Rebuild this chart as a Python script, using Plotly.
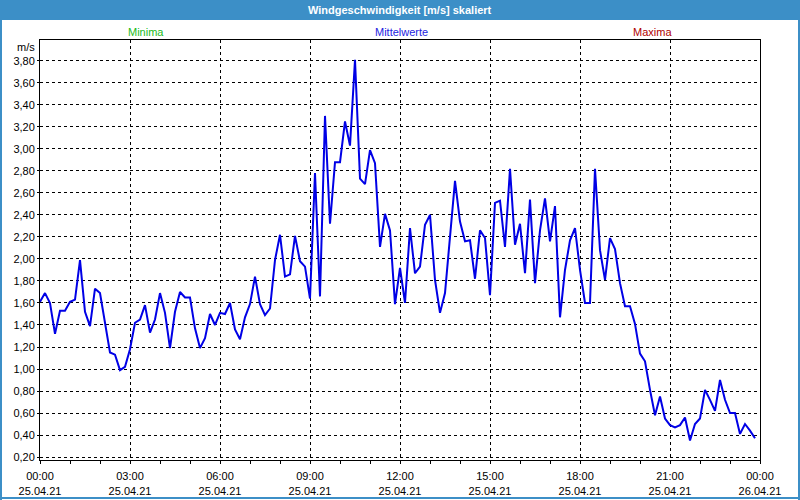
import pandas as pd
import plotly.graph_objects as go

# ---- data ----
start_time = "2021-04-25 00:00"
wind_mean = [
    1.61, 1.69, 1.60, 1.32, 1.53, 1.53, 1.61, 1.63, 1.99, 1.52, 1.39, 1.73,
    1.69, 1.40, 1.15, 1.13, 0.99, 1.02, 1.18, 1.42, 1.45, 1.58, 1.33, 1.45,
    1.69, 1.51, 1.19, 1.52, 1.70, 1.65, 1.65, 1.37, 1.19, 1.28, 1.50, 1.40,
    1.51, 1.50, 1.60, 1.36, 1.27, 1.47, 1.59, 1.84, 1.59, 1.49, 1.55, 1.99,
    2.22, 1.84, 1.86, 2.21, 1.98, 1.93, 1.64, 2.78, 1.66, 3.30, 2.32, 2.88,
    2.88, 3.25, 3.03, 3.81, 2.73, 2.68, 2.99, 2.87, 2.11, 2.41, 2.26, 1.59,
    1.92, 1.60, 2.28, 1.87, 1.93, 2.31, 2.40, 1.81, 1.51, 1.69, 2.17, 2.71,
    2.34, 2.16, 2.17, 1.82, 2.26, 2.19, 1.67, 2.51, 2.53, 2.11, 2.82, 2.13,
    2.32, 1.87, 2.54, 1.78, 2.26, 2.55, 2.16, 2.48, 1.47, 1.90, 2.17, 2.28,
    1.90, 1.60, 1.60, 2.82, 2.08, 1.81, 2.19, 2.09, 1.78, 1.57, 1.57, 1.41,
    1.14, 1.07, 0.81, 0.58, 0.75, 0.55, 0.49, 0.47, 0.49, 0.56, 0.35, 0.50,
    0.55, 0.81, 0.72, 0.62, 0.90, 0.72, 0.60, 0.60, 0.41, 0.50, 0.44, 0.37,
]
times = pd.date_range(start_time, periods=len(wind_mean), freq="10min")

x_tick_vals = pd.date_range("2021-04-25 00:00", "2021-04-26 00:00", freq="3h")
x_tick_text = [f"{t:%H:%M}<br>{t:%d.%m.%y}" for t in x_tick_vals]
y_tick_vals = [round(0.2 + 0.2 * k, 2) for k in range(19)]
y_tick_text = [f"{v:.2f}".replace(".", ",") for v in y_tick_vals]

title_text = "Windgeschwindigkeit [m/s] skaliert"
legend_items = [("Minima", "#1aba1a", 146), ("Mittelwerte", "#2323e0", 401), ("Maxima", "#b00000", 652)]

W, H = 800, 500
L, R, T, B = 40, 40, 40, 40
PW, PH = W - L - R, H - T - B

def px(x):
    return (x - L) / PW

def py(y):
    return (H - B - y) / PH

FONT = "Liberation Sans, Arial, sans-serif"
BLUE_BAR = "#3c8fc7"

fig = go.Figure()
fig.add_trace(go.Scatter(
    x=times, y=wind_mean, mode="lines",
    line=dict(color="#0000e6", width=2),
    hoverinfo="skip", showlegend=False,
))

fig.update_layout(
    width=W, height=H,
    margin=dict(l=L, r=R, t=T, b=B, pad=0, autoexpand=False),
    paper_bgcolor="white", plot_bgcolor="white",
    separators=",.",
    font=dict(family=FONT, size=11, color="#000000"),
    showlegend=False,
    xaxis=dict(
        type="date", automargin=False,
        range=[x_tick_vals[0], x_tick_vals[-1]],
        tickvals=list(x_tick_vals), ticktext=x_tick_text,
        ticks="outside", ticklen=3, tickcolor="black",
        ticklabelstandoff=3,
        showline=True, linecolor="black", linewidth=1, mirror=True,
        showgrid=True, gridcolor="black", gridwidth=1, griddash="3px,3px",
        zeroline=False,
        minor=dict(dtick=3600000, ticks="outside", ticklen=3, tickcolor="black", showgrid=False),
        tickfont=dict(family=FONT, size=11, color="black"),
    ),
    yaxis=dict(
        automargin=False,
        range=[0.173, 3.99],
        tickvals=y_tick_vals, ticktext=y_tick_text,
        ticks="outside", ticklen=2, tickcolor="black",
        showline=True, linecolor="black", linewidth=1, mirror=True,
        showgrid=True, gridcolor="black", gridwidth=1, griddash="3px,3px",
        zeroline=False,
        tickfont=dict(family=FONT, size=11, color="black"),
    ),
)

shapes = [
    # title bar
    dict(type="rect", xref="paper", yref="paper", layer="below",
         x0=px(0), x1=px(W), y0=py(20), y1=py(0),
         fillcolor=BLUE_BAR, line=dict(width=0)),
    # outer window border: left, right, bottom
    dict(type="line", xref="paper", yref="paper",
         x0=px(1), x1=px(1), y0=py(0), y1=py(H),
         line=dict(color=BLUE_BAR, width=2)),
    dict(type="line", xref="paper", yref="paper",
         x0=px(W - 1), x1=px(W - 1), y0=py(0), y1=py(H),
         line=dict(color=BLUE_BAR, width=2)),
    dict(type="line", xref="paper", yref="paper",
         x0=px(0), x1=px(W), y0=py(H - 2), y1=py(H - 2),
         line=dict(color=BLUE_BAR, width=2)),
]
fig.update_layout(shapes=shapes)

annotations = [
    dict(text=f"<b>{title_text}</b>", xref="paper", yref="paper",
         x=px(400), y=py(10), xanchor="center", yanchor="middle",
         showarrow=False, font=dict(family=FONT, size=11, color="white")),
    dict(text="m/s", xref="paper", yref="paper",
         x=px(37), y=py(47), xanchor="right", yanchor="middle",
         showarrow=False, font=dict(family=FONT, size=11, color="black")),
]
for name, color, cx in legend_items:
    annotations.append(dict(text=name, xref="paper", yref="paper",
                            x=px(cx), y=py(32), xanchor="center", yanchor="middle",
                            showarrow=False, font=dict(family=FONT, size=11, color=color)))
fig.update_layout(annotations=annotations)

fig.write_html(
    "out.html",
    config={"displayModeBar": False},
    post_script="document.body.style.margin='0';document.body.style.overflow='hidden';",
)
